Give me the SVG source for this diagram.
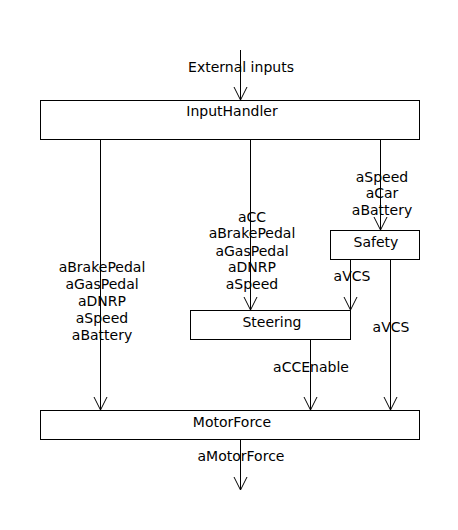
<svg xmlns="http://www.w3.org/2000/svg" width="458" height="530" viewBox="0 0 458 530">
<style>
.box{fill:#fff;stroke:#000;stroke-width:1}
.c{fill:none;stroke:#000;stroke-width:1;marker-end:url(#arr)}
text{font-family:"DejaVu Sans","Liberation Sans",sans-serif;font-size:14px;fill:#000;text-anchor:middle}
</style>
<defs>
<marker id="arr" markerUnits="userSpaceOnUse" markerWidth="16" markerHeight="16" viewBox="-1 -1 16 16" refX="13" refY="6.5" orient="auto" overflow="visible">
<path d="M0,0 L13,6.5 L0,13" fill="none" stroke="#000" stroke-width="1"/>
</marker>
</defs>
<rect width="458" height="530" fill="#fff"/>
<g id="connectors">
<path class="c" d="M240.5,50 V100"/>
<path class="c" d="M100.5,139 V410"/>
<path class="c" d="M250.5,139 V310"/>
<path class="c" d="M380.5,139 V230"/>
<path class="c" d="M350.5,259 V310"/>
<path class="c" d="M390.5,259 V410"/>
<path class="c" d="M310.5,339 V410"/>
<path class="c" d="M240.5,439 V490"/>
<text x="241" y="72">External inputs</text>
<text x="102" y="272">aBrakePedal</text>
<text x="102" y="289">aGasPedal</text>
<text x="102" y="306">aDNRP</text>
<text x="102" y="323">aSpeed</text>
<text x="102" y="340">aBattery</text>
<text x="252" y="222">aCC</text>
<text x="252" y="238">aBrakePedal</text>
<text x="252" y="256">aGasPedal</text>
<text x="252" y="272">aDNRP</text>
<text x="252" y="289">aSpeed</text>
<text x="382" y="182">aSpeed</text>
<text x="382" y="198">aCar</text>
<text x="382" y="215">aBattery</text>
<text x="352" y="281">aVCS</text>
<text x="391" y="332">aVCS</text>
<text x="311" y="372">aCCEnable</text>
<text x="241" y="461">aMotorForce</text>
</g>
<g id="InputHandler">
<rect class="box" x="40.5" y="100.5" width="379" height="39"/>
<text x="232" y="116">InputHandler</text>
</g>
<g id="Safety">
<rect class="box" x="330.5" y="230.5" width="89" height="29"/>
<text x="376" y="247">Safety</text>
</g>
<g id="Steering">
<rect class="box" x="190.5" y="310.5" width="160" height="29"/>
<text x="272" y="327">Steering</text>
</g>
<g id="MotorForce">
<rect class="box" x="40.5" y="410.5" width="379" height="29"/>
<text x="232" y="427">MotorForce</text>
</g>
</svg>
